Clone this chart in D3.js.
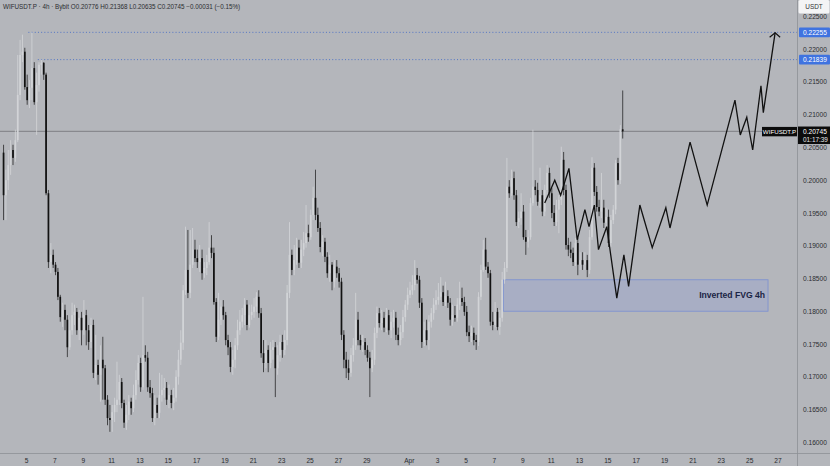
<!DOCTYPE html>
<html><head><meta charset="utf-8">
<script src="https://cdn.jsdelivr.net/npm/d3@7"></script>
<style>
html,body{margin:0;padding:0;background:#b4b6bb;}
svg{display:block;font-family:"Liberation Sans",Arial,sans-serif;}
</style></head>
<body><svg id="c" width="830" height="466"></svg>
<script>
// ---------- DATA ----------
const symbol = "WIFUSDT.P";
const headerText = "WIFUSDT.P · 4h · Bybit  O0.20776 H0.21368 L0.20635 C0.20745 −0.00031 (−0.15%)";
const startTime = "2025-03-03T08:00:00Z";   // first visible 4h candle
const candleHours = 4;
const firstOpen = 0.2042;
const closes = [
0.1977,0.2000,0.2023,0.2046,0.2034,0.2061,0.2130,0.2191,0.2196,0.2142,
0.2122,0.2141,0.2171,0.2119,0.2145,0.2176,0.2179,0.2161,0.1980,0.1875,
0.1886,0.1871,0.1860,0.1822,0.1791,0.1802,0.1787,0.1745,0.1771,0.1794,
0.1799,0.1771,0.1790,0.1771,0.1794,0.1771,0.1753,0.1779,0.1706,0.1718,
0.1703,0.1726,0.1713,0.1665,0.1637,0.1634,0.1646,0.1657,0.1665,0.1692,
0.1660,0.1630,0.1642,0.1662,0.1652,0.1672,0.1695,0.1721,0.1684,0.1733,
0.1729,0.1684,0.1675,0.1637,0.1657,0.1645,0.1672,0.1680,0.1683,0.1665,
0.1672,0.1660,0.1668,0.1700,0.1726,0.1752,0.1832,0.1863,0.1828,0.1871,
0.1894,0.1881,0.1875,0.1881,0.1858,0.1866,0.1875,0.1897,0.1889,0.1814,
0.1761,0.1787,0.1807,0.1794,0.1756,0.1745,0.1715,0.1726,0.1748,0.1771,
0.1784,0.1794,0.1810,0.1779,0.1794,0.1799,0.1807,0.1822,0.1797,0.1736,
0.1721,0.1741,0.1721,0.1741,0.1745,0.1713,0.1733,0.1753,0.1741,0.1756,
0.1828,0.1886,0.1863,0.1878,0.1897,0.1874,0.1894,0.1904,0.1919,0.1913,
0.1947,0.1973,0.1947,0.1927,0.1898,0.1906,0.1883,0.1858,0.1871,0.1845,
0.1868,0.1858,0.1845,0.1764,0.1726,0.1713,0.1706,0.1733,0.1748,0.1787,
0.1756,0.1748,0.1753,0.1741,0.1729,0.1713,0.1726,0.1767,0.1797,0.1782,
0.1790,0.1775,0.1794,0.1771,0.1784,0.1790,0.1764,0.1756,0.1768,0.1791,
0.1810,0.1825,0.1832,0.1840,0.1855,0.1848,0.1813,0.1753,0.1771,0.1756,
0.1784,0.1797,0.1810,0.1817,0.1822,0.1829,0.1814,0.1823,0.1813,0.1787,
0.1794,0.1790,0.1810,0.1820,0.1814,0.1799,0.1768,0.1762,0.1767,0.1756,
0.1753,0.1822,0.1863,0.1894,0.1868,0.1858,0.1784,0.1779,0.1799,0.1776,
0.1790,0.1848,0.1866,0.1990,0.1980,0.2003,0.1977,0.1936,0.1942,0.1952,
0.1913,0.1906,0.1913,0.1965,0.1990,0.1985,0.1967,0.1977,0.1952,0.1985,
0.2011,0.1980,0.1950,0.1936,0.1955,0.1970,0.2031,0.1985,0.1901,0.1894,
0.1889,0.1875,0.1904,0.1871,0.1878,0.1871,0.1878,0.1863,0.1913,0.2019,
0.1982,0.1959,0.1952,0.1958,0.1935,0.1944,0.1904,0.1939,0.1955,0.2026,
0.2000,0.20776,0.20745];
const highs = [
0.2054,0.2016,0.2046,0.2061,0.2054,0.2077,0.2191,0.2214,0.2222,0.2202,
0.2161,0.2153,0.22255,0.2180,0.2164,0.2180,0.21839,0.2180,0.2164,0.1985,
0.1904,0.1894,0.1875,0.1866,0.1825,0.1813,0.1810,0.1794,0.1787,0.1813,
0.1810,0.1805,0.1802,0.1799,0.1817,0.1802,0.1779,0.1790,0.1787,0.1764,
0.1726,0.1748,0.1761,0.1718,0.1672,0.1657,0.1657,0.1668,0.1723,0.1703,
0.1698,0.1665,0.1657,0.1672,0.1668,0.1688,0.1710,0.1733,0.1729,0.1822,
0.1748,0.1738,0.1695,0.1683,0.1672,0.1668,0.1706,0.1703,0.1698,0.1692,
0.1688,0.1680,0.1683,0.1710,0.1741,0.1771,0.1840,0.1929,0.1924,0.1924,
0.1927,0.1909,0.1894,0.1901,0.1894,0.1875,0.1886,0.1936,0.1916,0.1897,
0.1820,0.1828,0.1817,0.1817,0.1799,0.1764,0.1753,0.1741,0.1759,0.1787,
0.1802,0.1805,0.1820,0.1817,0.1810,0.1810,0.1820,0.1829,0.1832,0.1805,
0.1756,0.1756,0.1748,0.1753,0.1756,0.1753,0.1748,0.1764,0.1764,0.1771,
0.1840,0.1936,0.1894,0.1901,0.1912,0.1909,0.1909,0.1921,0.1962,0.1932,
0.1955,0.1990,0.2016,0.1958,0.1936,0.1916,0.1912,0.1890,0.1886,0.1875,
0.1878,0.1878,0.1866,0.1851,0.1771,0.1738,0.1726,0.1744,0.1759,0.1828,
0.1799,0.1764,0.1764,0.1759,0.1748,0.1738,0.1741,0.1775,0.1807,0.1805,
0.1802,0.1799,0.1805,0.1802,0.1799,0.1802,0.1799,0.1775,0.1779,0.1802,
0.1817,0.1836,0.1845,0.1855,0.1878,0.1866,0.1854,0.1820,0.1784,0.1787,
0.1794,0.1805,0.1820,0.1832,0.1843,0.1852,0.1839,0.1845,0.1832,0.1820,
0.1810,0.1808,0.1820,0.1845,0.1836,0.1822,0.1808,0.1778,0.1778,0.1775,
0.1764,0.1829,0.1871,0.1909,0.1912,0.1875,0.1863,0.1799,0.1814,0.1805,
0.1802,0.1860,0.1875,0.2034,0.2000,0.2016,0.2013,0.1985,0.1952,0.1980,
0.1962,0.1924,0.1924,0.1973,0.2077,0.2000,0.1996,0.2019,0.1985,0.1993,
0.2023,0.2019,0.1988,0.1962,0.1970,0.1977,0.2051,0.2043,0.1993,0.1912,
0.1906,0.1897,0.1912,0.1912,0.1890,0.1890,0.1890,0.1886,0.1924,0.2035,
0.2026,0.1991,0.1970,0.2011,0.1970,0.1958,0.1955,0.1947,0.1962,0.2031,
0.2034,0.2084,0.21368];
const lows = [
0.1939,0.1939,0.1985,0.2008,0.2023,0.2028,0.2058,0.2122,0.2180,0.2138,
0.2115,0.2110,0.2122,0.2115,0.2069,0.2135,0.2161,0.2153,0.1977,0.1866,
0.1858,0.1866,0.1855,0.1817,0.1784,0.1776,0.1771,0.1730,0.1741,0.1764,
0.1779,0.1764,0.1756,0.1748,0.1764,0.1748,0.1741,0.1744,0.1698,0.1695,
0.1688,0.1662,0.1665,0.1657,0.1626,0.1616,0.1616,0.1631,0.1646,0.1657,
0.1652,0.1622,0.1619,0.1634,0.1642,0.1646,0.1665,0.1688,0.1677,0.1680,
0.1723,0.1677,0.1668,0.1631,0.1626,0.1637,0.1637,0.1662,0.1668,0.1657,
0.1652,0.1652,0.1649,0.1662,0.1688,0.1718,0.1741,0.1825,0.1820,0.1820,
0.1866,0.1875,0.1866,0.1860,0.1848,0.1851,0.1855,0.1871,0.1881,0.1810,
0.1753,0.1756,0.1779,0.1787,0.1748,0.1733,0.1707,0.1703,0.1713,0.1741,
0.1764,0.1775,0.1779,0.1771,0.1775,0.1787,0.1790,0.1799,0.1790,0.1729,
0.1707,0.1713,0.1707,0.1713,0.1726,0.1669,0.1703,0.1723,0.1729,0.1733,
0.1748,0.1820,0.1855,0.1855,0.1871,0.1866,0.1866,0.1884,0.1897,0.1906,
0.1909,0.1939,0.1939,0.1921,0.1890,0.1884,0.1875,0.1851,0.1845,0.1832,
0.1836,0.1851,0.1836,0.1756,0.1713,0.1698,0.1695,0.1700,0.1723,0.1741,
0.1748,0.1741,0.1738,0.1733,0.1723,0.1669,0.1707,0.1718,0.1759,0.1775,
0.1771,0.1768,0.1768,0.1764,0.1759,0.1775,0.1756,0.1748,0.1748,0.1759,
0.1784,0.1802,0.1820,0.1825,0.1832,0.1842,0.1805,0.1744,0.1747,0.1748,
0.1741,0.1775,0.1787,0.1802,0.1810,0.1817,0.1808,0.1808,0.1805,0.1778,
0.1778,0.1784,0.1784,0.1802,0.1808,0.1793,0.1762,0.1753,0.1753,0.1748,
0.1741,0.1747,0.1817,0.1860,0.1863,0.1851,0.1778,0.1771,0.1775,0.1771,
0.1764,0.1784,0.1842,0.1860,0.1973,0.1976,0.1970,0.1930,0.1927,0.1932,
0.1909,0.1886,0.1897,0.1909,0.1961,0.1977,0.1961,0.1958,0.1945,0.1945,
0.1977,0.1973,0.1942,0.1930,0.1930,0.1919,0.1962,0.1977,0.1894,0.1884,
0.1881,0.1869,0.1869,0.1855,0.1863,0.1863,0.1863,0.1852,0.1857,0.1909,
0.1976,0.1952,0.1945,0.1942,0.1927,0.1927,0.1898,0.1898,0.1933,0.1948,
0.1993,0.1994,0.20635];

const dateTicks = ["2025-03-05","2025-03-07","2025-03-09","2025-03-11","2025-03-13","2025-03-15",
  "2025-03-17","2025-03-19","2025-03-21","2025-03-23","2025-03-25","2025-03-27","2025-03-29",
  "2025-04-01","2025-04-03","2025-04-05","2025-04-07","2025-04-09","2025-04-11","2025-04-13",
  "2025-04-15","2025-04-17","2025-04-19","2025-04-21","2025-04-23","2025-04-25","2025-04-27"];
const priceTicks = [0.160,0.165,0.170,0.175,0.180,0.185,0.190,0.195,0.200,0.205,0.210,0.215,0.220,0.225];
const levelPrices = [0.22255, 0.21839];
const levelStarts = ["2025-03-05T04:00:00Z","2025-03-05T20:00:00Z"];
const lastPrice = 0.20745;
const countdown = "01:17:39";
const fvgLow = 0.1800, fvgHigh = 0.1848;
const fvgStart = "2025-04-07T16:00:00Z", fvgEnd = "2025-04-26T08:00:00Z";
const fvgLabel = "Inverted FVG 4h";
const pathTimes = ["2025-04-10T14:00Z","2025-04-11T07:00Z","2025-04-11T17:00Z","2025-04-12T07:00Z",
  "2025-04-12T21:00Z","2025-04-13T10:00Z","2025-04-13T17:00Z","2025-04-14T02:00Z","2025-04-14T09:00Z",
  "2025-04-14T23:00Z","2025-04-15T16:00Z","2025-04-16T04:00Z","2025-04-16T12:00Z","2025-04-17T07:00Z",
  "2025-04-18T04:00Z","2025-04-19T03:00Z","2025-04-19T10:00Z","2025-04-20T20:00Z","2025-04-22T01:00Z",
  "2025-04-24T00:00Z","2025-04-24T09:00Z","2025-04-24T20:00Z","2025-04-25T06:00Z","2025-04-25T20:00Z",
  "2025-04-26T00:00Z","2025-04-26T20:00Z"];
const pathPrices = [0.1965,0.2000,0.1977,0.2018,0.1909,0.1955,0.1929,0.1962,0.1894,0.1929,0.1820,0.1886,
  0.1838,0.1962,0.1897,0.1958,0.1927,0.2058,0.1962,0.2122,0.2069,0.2096,0.2046,0.2144,0.2103,0.2225];

// ---------- LAYOUT ----------
const W = 830, H = 466, plotR = 797, plotB = 453;
const svg = d3.select("#c");
const bg = "#b4b6bb";
svg.append("rect").attr("width",W).attr("height",H).attr("fill",bg);

const x = d3.scaleUtc()
  .domain([new Date("2025-03-05T00:00:00Z"), new Date("2025-04-27T00:00:00Z")])
  .range([26, 777.5]);
const y = d3.scaleLinear().domain([0.16, 0.225]).range([442.3, 16.3]);

const t0 = new Date(startTime);
const candles = closes.map((c,i)=>{
  const t = d3.utcHour.offset(t0, i*candleHours);
  return {t, mid: d3.utcHour.offset(t, candleHours/2), o: i===0?firstOpen:closes[i-1], h: highs[i], l: lows[i], c};
});

svg.append("clipPath").attr("id","plot").append("rect").attr("x",0).attr("y",0).attr("width",plotR).attr("height",plotB);
const g = svg.append("g").attr("clip-path","url(#plot)");

// FVG box
g.append("rect")
  .attr("x", x(new Date(fvgStart))).attr("y", y(fvgHigh))
  .attr("width", x(new Date(fvgEnd)) - x(new Date(fvgStart)))
  .attr("height", y(fvgLow) - y(fvgHigh))
  .attr("fill","rgba(120,145,235,0.2)").attr("stroke","rgba(100,128,220,0.7)").attr("stroke-width",0.8);
g.append("text").attr("x", x(new Date(fvgEnd)) - 3).attr("y", (y(fvgLow)+y(fvgHigh))/2 + 3)
  .attr("text-anchor","end").attr("font-size",8.6).attr("font-weight","bold").attr("fill","#1b2444")
  .text(fvgLabel);

// last price line
g.append("line").attr("x1",0).attr("x2",plotR).attr("y1",y(lastPrice)).attr("y2",y(lastPrice))
  .attr("stroke","#5a5c60").attr("stroke-width",0.6);

// level dotted lines
levelPrices.forEach((p,i)=>{
  g.append("line").attr("x1", x(new Date(levelStarts[i]))).attr("x2",plotR)
    .attr("y1",y(p)).attr("y2",y(p)).attr("stroke","#3a64c8").attr("stroke-width",0.8)
    .attr("stroke-dasharray","1,2.2");
});

// candles
const bw = 1.7;
const upFill = "#d2d4d7", upWick = "#d8dadd", dnFill = "#121212";
const cg = g.append("g");
cg.selectAll("line.w").data(candles).join("line").attr("class","w")
  .attr("x1",d=>x(d.mid)).attr("x2",d=>x(d.mid))
  .attr("y1",d=>y(d.h)).attr("y2",d=>y(d.l))
  .attr("stroke",d=>d.c>=d.o?upWick:dnFill).attr("stroke-width",0.7);
cg.selectAll("rect.b").data(candles).join("rect").attr("class","b")
  .attr("x",d=>x(d.mid)-bw/2).attr("width",bw)
  .attr("y",d=>y(Math.max(d.o,d.c)))
  .attr("height",d=>Math.max(0.8, Math.abs(y(d.o)-y(d.c))))
  .attr("fill",d=>d.c>=d.o?upFill:dnFill);

// projection path
const pts = pathTimes.map((t,i)=>[x(new Date(t)), y(pathPrices[i])]);
g.append("path").attr("d", d3.line()(pts)).attr("fill","none")
  .attr("stroke","#111").attr("stroke-width",1.3).attr("stroke-linejoin","miter");
const tip = pts[pts.length-1];
g.append("path").attr("d", d3.line()([[tip[0]-5.5,tip[1]+4.5],[tip[0],tip[1]],[tip[0]+5,tip[1]+4.5]]))
  .attr("fill","none").attr("stroke","#111").attr("stroke-width",1.2);

// header
svg.append("text").attr("x",3).attr("y",9).attr("font-size",6.3).attr("fill","#2b2d31").text(headerText);

// axes frame
svg.append("line").attr("x1",0).attr("x2",W).attr("y1",plotB+0.5).attr("y2",plotB+0.5).attr("stroke","#8d9095").attr("stroke-width",0.8);
svg.append("line").attr("x1",plotR+0.5).attr("x2",plotR+0.5).attr("y1",0).attr("y2",H).attr("stroke","#8d9095").attr("stroke-width",0.8);

// x axis
const xa = svg.append("g").attr("transform",`translate(0,${plotB})`)
  .call(d3.axisBottom(x).tickValues(dateTicks.map(s=>new Date(s+"T00:00:00Z"))).tickSize(0).tickPadding(5)
    .tickFormat(d=> (d.getUTCDate()===1 ? d3.utcFormat("%b")(d) : String(d.getUTCDate()))));
xa.select(".domain").remove();
xa.selectAll("text").attr("font-size",6.6).attr("fill","#2a2c30").attr("font-family","Liberation Sans, Arial, sans-serif");

// y axis
const ya = svg.append("g").attr("transform",`translate(${plotR},0)`)
  .call(d3.axisRight(y).tickValues(priceTicks).tickSize(0).tickPadding(6).tickFormat(d3.format(".5f")));
ya.select(".domain").remove();
ya.selectAll("text").attr("font-size",6.6).attr("fill","#2a2c30").attr("font-family","Liberation Sans, Arial, sans-serif");

// USDT box
svg.append("rect").attr("x",798.5).attr("y",0).attr("width",31).attr("height",13.5).attr("rx",1.5).attr("fill","#f4f4f5");
svg.append("text").attr("x",814).attr("y",9.3).attr("text-anchor","middle").attr("font-size",6.4).attr("fill","#333").text("USDT");

// level labels
levelPrices.forEach(p=>{
  svg.append("rect").attr("x",799).attr("y",y(p)-4.8).attr("width",31).attr("height",9.6).attr("rx",1).attr("fill","#3f73e0");
  svg.append("text").attr("x",803).attr("y",y(p)+2.4).attr("font-size",6.6).attr("fill","#fff").text(d3.format(".5f")(p));
});

// last price label
const ly = y(lastPrice);
svg.append("rect").attr("x",798).attr("y",ly-4.8).attr("width",32).attr("height",17.5).attr("fill","#0c0c0c");
svg.append("text").attr("x",803).attr("y",ly+2.4).attr("font-size",6.6).attr("fill","#fff").text(d3.format(".5f")(lastPrice));
svg.append("text").attr("x",803).attr("y",ly+10.2).attr("font-size",6.4).attr("fill","#e8e8e8").text(countdown);
svg.append("rect").attr("x",762).attr("y",ly-4.4).attr("width",35).attr("height",9.4).attr("fill","#0c0c0c");
svg.append("text").attr("x",779.5).attr("y",ly+2.3).attr("text-anchor","middle").attr("font-size",6.2).attr("fill","#fff").text(symbol);
</script></body></html>
